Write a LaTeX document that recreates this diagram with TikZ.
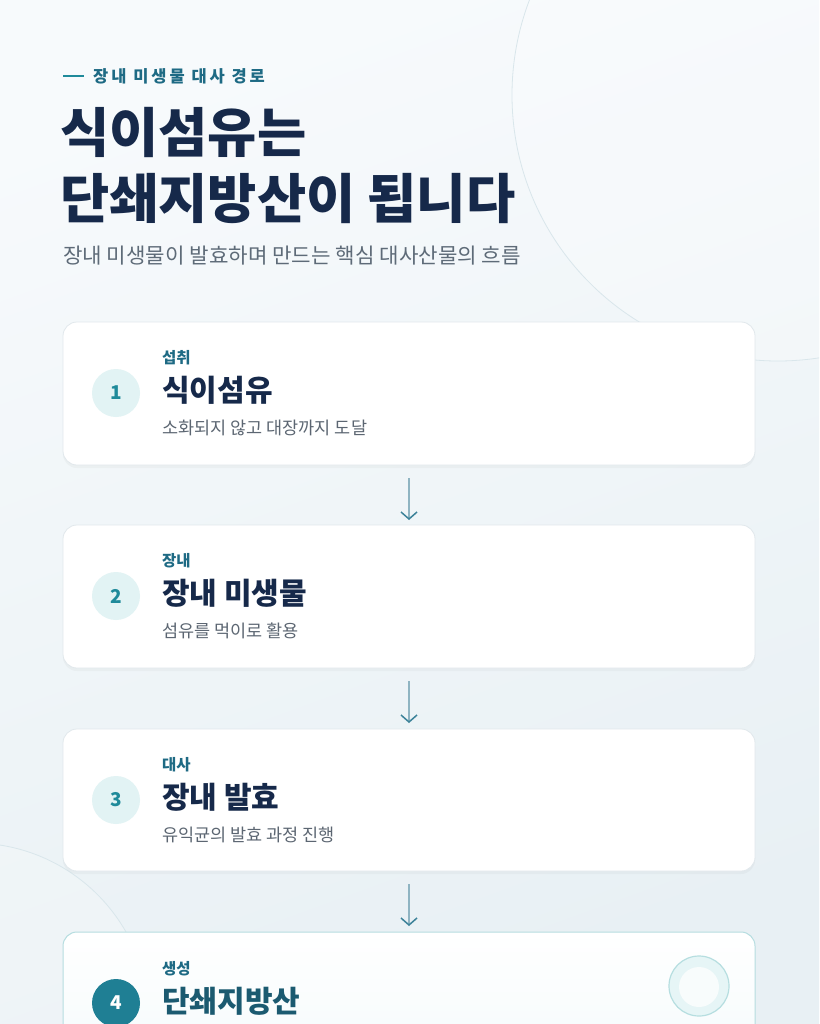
\documentclass[tikz,border=0pt]{standalone}
\usepackage{fontspec}
\setmainfont{Noto Sans CJK KR}
\usetikzlibrary{shadows,arrows.meta}
\definecolor{bgA}{HTML}{F7FAFC}
\definecolor{bgB}{HTML}{E8F0F4}
\definecolor{navy}{HTML}{16294A}
\definecolor{tealD}{HTML}{1E6A84}
\definecolor{teal}{HTML}{1F8A9A}
\definecolor{grayT}{HTML}{5C6672}
\definecolor{subT}{HTML}{5E6B78}
\definecolor{numBg}{HTML}{E2F3F4}
\definecolor{cardBd}{HTML}{E1E8EC}
\definecolor{arrowC}{HTML}{3C8299}
\definecolor{arrowL}{HTML}{8FB4C2}
\definecolor{deco}{HTML}{D9E6EB}
\definecolor{card4Bd}{HTML}{B6DDE0}
\definecolor{card4Bot}{HTML}{F3FAFB}
\definecolor{num4}{HTML}{1F7F94}
\definecolor{ttl4}{HTML}{1B5A70}
\definecolor{ringBd}{HTML}{B6DEE0}
\definecolor{ringFill}{HTML}{E6F5F6}
\definecolor{ringIn}{HTML}{F8FCFC}
\tikzset{
  card/.style={draw=cardBd, line width=0.8pt, fill=white, rounded corners=14pt,
    drop shadow={opacity=0.06, shadow xshift=0pt, shadow yshift=-3pt}},
  numc/.style={circle, fill=numBg, minimum size=48pt, inner sep=0pt, text=teal, font=\bfseries\fontsize{19}{22}\selectfont},
  lbl/.style={anchor=west, inner sep=0pt, text=tealD, font=\bfseries\fontsize{15.5}{18}\selectfont},
  ttl/.style={anchor=west, inner sep=0pt, text=navy, font=\bfseries\fontsize{30}{34}\selectfont},
  dsc/.style={anchor=west, inner sep=0pt, text=grayT, font=\fontsize{17.5}{20}\selectfont},
  flow/.style={draw=arrowL, line width=1.2pt, -{Straight Barb[length=7pt,width=16pt,line width=1.5pt,color=arrowC]}}
}
\begin{document}
\begin{tikzpicture}[x=1pt,y=-1pt]
\useasboundingbox (0,0) rectangle (819,1024);
\shade[shading=axis, top color=bgA, bottom color=bgB, shading angle=20] (0,0) rectangle (819,1024);
% decorative circles
\begin{scope}
\clip (0,0) rectangle (819,1024);
\draw[deco, line width=0.8pt, fill=white, fill opacity=0.25] (778,95) circle (266);
\draw[deco, line width=0.8pt, fill=white, fill opacity=0.2] (-27,1019) circle (176);
\end{scope}
% header
\draw[teal, line width=2.5pt] (63,76) -- (84,76);
\node[anchor=west, inner sep=0pt, text=tealD, font=\bfseries\fontsize{16.5}{19}\selectfont\addfontfeature{LetterSpace=18}] (kicker) at (93,76) {장내 미생물 대사 경로};
\node[anchor=west, inner sep=0pt, text=navy, font=\bfseries\fontsize{53.5}{58}\selectfont] (t1) at (60,132) {식이섬유는};
\node[anchor=west, inner sep=0pt, text=navy, font=\bfseries\fontsize{53.5}{58}\selectfont] (t2) at (60,198) {단쇄지방산이 됩니다};
\node[anchor=west, inner sep=0pt, text=subT, font=\fontsize{21.2}{24}\selectfont] (sub) at (63,256) {장내 미생물이 발효하며 만드는 핵심 대사산물의 흐름};
% cards
\path[card] (63,322) rectangle (755,465);
\node[numc] (n1) at (116,393) {1};
\node[lbl] (l1) at (162,358) {섭취};
\node[ttl] (h1) at (162,390) {식이섬유};
\node[dsc] (d1) at (162,428) {소화되지 않고 대장까지 도달};

\path[card] (63,525) rectangle (755,668);
\node[numc] (n2) at (116,596) {2};
\node[lbl] (l2) at (162,561) {장내};
\node[ttl] (h2) at (162,593) {장내 미생물};
\node[dsc] (d2) at (162,631) {섬유를 먹이로 활용};

\path[card] (63,729) rectangle (755,871);
\node[numc] (n3) at (116,800) {3};
\node[lbl] (l3) at (162,765) {대사};
\node[ttl] (h3) at (162,797) {장내 발효};
\node[dsc] (d3) at (162,835) {유익균의 발효 과정 진행};

\path[draw=card4Bd, line width=1pt, rounded corners=14pt, top color=white, bottom color=card4Bot,
  drop shadow={opacity=0.06, shadow xshift=0pt, shadow yshift=-3pt}] (63,932) rectangle (755,1090);
\node[numc, fill=num4, text=white] (n4) at (116,1003) {4};
\node[lbl] (l4) at (162,969) {생성};
\node[ttl, text=ttl4] (h4) at (162,1001) {단쇄지방산};
\node[circle, draw=ringBd, line width=1.2pt, fill=ringFill, minimum size=60pt, inner sep=0pt] (ring) at (699,986) {};
\node[circle, fill=ringIn, minimum size=40pt, inner sep=0pt] (ringin) at (699,987) {};
% arrows
\coordinate (a1s) at (409,478); \coordinate (a1e) at (409,520);
\coordinate (a2s) at (409,681); \coordinate (a2e) at (409,723);
\coordinate (a3s) at (409,884); \coordinate (a3e) at (409,926);
\draw[flow] (a1s) -- (a1e);
\draw[flow] (a2s) -- (a2e);
\draw[flow] (a3s) -- (a3e);
\end{tikzpicture}
\end{document}
